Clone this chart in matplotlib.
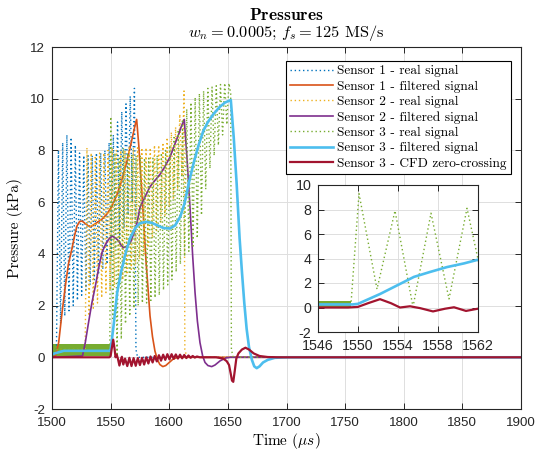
import numpy as np
import matplotlib
matplotlib.use('Agg')
import matplotlib.pyplot as plt
from matplotlib.font_manager import FontProperties

plt.rcParams['mathtext.fontset'] = 'cm'
plt.rcParams['axes.unicode_minus'] = False
plt.rcParams['font.family'] = ['Liberation Sans', 'DejaVu Sans']

# ---------------- data ----------------
# Sensor 1 - real signal (time in us, pressure in kPa)
s1r_t = [1500.0, 1503.8,
         1505.5, 1507.3, 1509.1, 1510.9, 1512.7, 1514.5, 1516.3, 1518.1, 1519.9, 1521.7,
         1523.5, 1525.3, 1527.1, 1528.9, 1530.7, 1532.5, 1534.3, 1536.1, 1537.9, 1539.7,
         1541.5, 1543.3, 1545.1, 1546.9, 1548.7, 1550.5, 1552.3, 1554.1, 1555.9, 1557.7,
         1559.5, 1561.3, 1563.1, 1564.9, 1566.7, 1568.5, 1570.3,
         1571.6, 1573.0, 1900.0]
s1r_v = [0.3, 0.3,
         8.0, 1.3, 8.3, 1.6, 8.6, 1.8, 8.5, 2.0, 8.2, 2.2,
         7.9, 2.4, 7.8, 2.6, 7.8, 2.8, 7.8, 3.0, 7.9, 3.2,
         7.9, 3.4, 8.0, 3.6, 8.3, 3.9, 8.6, 4.2, 9.1, 4.6,
         9.5, 5.0, 9.8, 5.5, 10.1, 6.0, 10.4,
         0.3, 0.0, 0.0]

# Sensor 1 - filtered signal
s1f_t = [1500, 1503, 1505.7, 1508.5, 1511.4, 1514, 1517, 1519.5, 1521.3, 1523.5, 1525.6,
         1529, 1532, 1534.1, 1538, 1542.6, 1547, 1551.2, 1555.5, 1559.7, 1564, 1568.2,
         1571, 1572.2, 1574, 1576.5, 1578.5, 1580.2, 1582, 1583.6, 1585.7, 1587.8, 1590,
         1592, 1594.5, 1597, 1600, 1603, 1607, 1900]
s1f_v = [0.0, 0.05, 0.57, 1.7, 2.76, 3.6, 4.2, 4.75, 5.08, 5.25, 5.27,
         5.15, 5.05, 5.08, 5.2, 5.34, 5.55, 5.85, 6.3, 6.88, 7.6, 8.43,
         9.0, 9.2, 8.2, 6.5, 5.0, 3.7, 2.6, 1.6, 0.8, 0.24, -0.1,
         -0.28, -0.36, -0.32, -0.2, -0.08, 0.0, 0.0]

# Sensor 2 - real signal
s2r_t = [1500.0, 1528.3,
         1529.8, 1531.6, 1533.4, 1535.2, 1537.0, 1538.8, 1540.6, 1542.4, 1544.2, 1546.0,
         1547.8, 1549.6, 1551.4, 1553.2, 1555.0, 1556.8, 1558.6, 1560.4, 1562.2, 1564.0,
         1565.8, 1567.6, 1569.4, 1571.2, 1573.0, 1574.8, 1576.6, 1578.4, 1580.2, 1582.0,
         1583.8, 1585.6, 1587.4, 1589.2, 1591.0, 1592.8, 1594.6, 1596.4, 1598.2, 1600.0,
         1601.8, 1603.6, 1605.4, 1607.2, 1609.0, 1610.8, 1612.6,
         1613.3, 1615.0, 1900.0]
s2r_v = [0.3, 0.3,
         8.1, 1.6, 7.9, 1.9, 7.8, 2.1, 7.9, 2.3, 7.9, 2.5,
         8.0, 2.6, 8.1, 2.7, 8.0, 2.8, 8.0, 3.0, 8.0, 3.2,
         8.1, 3.4, 8.1, 3.6, 8.1, 3.8, 8.1, 4.0, 8.1, 4.3,
         8.1, 4.6, 8.2, 4.9, 8.2, 5.2, 8.3, 5.5, 8.5, 5.8,
         8.7, 6.1, 8.9, 6.5, 9.4, 7.0, 10.3,
         0.3, 0.0, 0.0]

# Sensor 2 - filtered signal
s2f_t = [1500, 1526, 1528.4, 1531, 1534, 1537, 1540, 1542.6, 1545.5, 1548.3, 1551.2,
         1554, 1556.8, 1559, 1561.1, 1564, 1566.8, 1569.5, 1572.5, 1575.1, 1579.3,
         1583.6, 1588, 1592.2, 1596, 1600.7, 1604, 1607.8, 1610.5, 1612.8, 1615,
         1617.7, 1620, 1622, 1624, 1626.2, 1628.5, 1630.5, 1633, 1636.2, 1639,
         1643.3, 1648, 1652, 1900]
s2f_v = [0.0, 0.05, 0.57, 1.3, 2.1, 2.76, 3.5, 4.05, 4.35, 4.56, 4.69,
         4.62, 4.5, 4.33, 4.24, 4.3, 4.43, 4.75, 5.2, 5.8, 6.2,
         6.6, 6.85, 7.08, 7.35, 7.75, 8.15, 8.6, 8.95, 9.2, 7.8,
         5.8, 3.9, 2.5, 1.4, 0.57, 0.05, -0.2, -0.32, -0.36, -0.3,
         -0.14, -0.03, 0.0, 0.0]

# Sensor 3 - real signal
s3r_t = [1500.0, 1549.3,
         1550.1, 1551.9, 1553.7, 1555.5, 1557.3, 1559.1, 1560.9, 1562.7, 1564.5, 1566.3,
         1568.1, 1569.9, 1571.7, 1573.5, 1575.3, 1577.1, 1578.9, 1580.7, 1582.5, 1584.3,
         1586.1, 1587.9, 1589.7, 1591.5, 1593.3, 1595.1, 1596.9, 1598.7, 1600.5, 1602.3,
         1604.1, 1605.9, 1607.7, 1609.5, 1611.3, 1613.1, 1614.9, 1616.7, 1618.5, 1620.3,
         1622.1, 1623.9, 1625.7, 1627.5, 1629.3, 1631.1, 1632.9, 1634.7, 1636.5, 1638.3,
         1640.1, 1641.9, 1643.7, 1645.5, 1647.3, 1649.1, 1650.9,
         1652.4, 1653.0, 1654.5, 1900.0]
s3r_v = [0.3, 0.3,
         9.3, 1.5, 7.9, 0.05, 7.7, 0.7, 8.1, 1.3, 7.9, 1.6,
         7.8, 1.9, 7.8, 2.0, 7.8, 2.1, 7.7, 2.1, 7.7, 2.2,
         7.7, 2.3, 7.8, 2.4, 7.9, 2.6, 8.0, 2.8, 8.2, 3.0,
         8.5, 3.3, 8.8, 3.6, 9.2, 3.9, 9.6, 4.1, 9.85, 4.3,
         10.05, 4.6, 10.2, 5.5, 10.3, 6.5, 10.4, 7.3, 10.45, 7.8,
         10.5, 8.2, 10.55, 8.6, 10.6, 9.0, 10.6,
         10.2, 0.3, 0.0, 0.0]
# noise band of the sensor 3 real signal before the arrival
s3_noise_t = [1500.0, 1549.3]
s3_noise_lo = [0.06, 0.06]
s3_noise_hi = [0.52, 0.52]

# Sensor 3 - filtered signal
s3f_t = [1500, 1510, 1549.5, 1550, 1552.2, 1553.9, 1555.6, 1557.2, 1558.9, 1560.6, 1562,
         1566.5, 1571, 1575, 1580, 1585, 1590, 1595, 1600.6, 1605, 1609.5, 1613,
         1617, 1621, 1625, 1629, 1633, 1637.6, 1643, 1647.5, 1652.5, 1655, 1657.5,
         1660, 1662, 1664, 1666, 1668, 1670.5, 1672.5, 1674.6, 1677, 1680, 1684,
         1690, 1700, 1900]
s3f_v = [0.12, 0.25, 0.25, 0.3, 1.1, 1.8, 2.5, 2.9, 3.3, 3.6, 3.9,
         4.6, 5.0, 5.18, 5.24, 5.2, 5.1, 5.0, 4.98, 5.1, 5.45, 5.95,
         6.8, 7.55, 8.2, 8.75, 9.1, 9.4, 9.68, 9.85, 9.95, 8.5, 6.7,
         4.6, 3.3, 2.1, 1.1, 0.4, -0.1, -0.35, -0.42, -0.35, -0.2, -0.1,
         -0.02, 0.0, 0.0]

# Sensor 3 - CFD zero-crossing
cfd_t = [1500, 1549.0, 1550.0, 1551.0, 1552.2, 1553.3, 1554.2, 1555.2, 1556.2, 1557.5,
         1558.7, 1559.6, 1560.8, 1562.3, 1564.2, 1566.0, 1567.8, 1569.6, 1571.4, 1573.2,
         1575.0, 1576.8, 1578.6, 1580.4, 1582.2, 1584.0, 1585.8, 1587.6, 1589.4, 1591.2,
         1593.0, 1594.8, 1596.6, 1598.4, 1600.2, 1602.0, 1603.8, 1605.6, 1607.4, 1609.2,
         1611.0, 1612.8, 1614.6, 1616.4, 1618.2, 1620.0, 1621.8, 1623.6, 1626.0, 1640,
         1646, 1649, 1651, 1652.5, 1653.5, 1654.6, 1655.8, 1657.2, 1659, 1662,
         1665, 1668, 1672, 1677, 1684, 1692, 1900]
cfd_v = [0.0, 0.0, 0.05, 0.35, 0.68, 0.35, 0.0, 0.1, -0.05, -0.32,
         -0.1, 0.02, -0.28, -0.05, -0.34, -0.02, -0.34, -0.03, -0.33, -0.03,
         -0.3, -0.02, -0.28, 0.0, -0.24, 0.03, -0.2, 0.05, -0.16, 0.08,
         -0.13, 0.1, -0.1, 0.12, -0.08, 0.12, -0.06, 0.11, -0.05, 0.1,
         -0.04, 0.09, -0.03, 0.07, -0.02, 0.05, -0.01, 0.03, 0.0, 0.0,
         -0.05, -0.15, -0.3, -0.65, -0.9, -0.95, -0.55, -0.05, 0.15, 0.3,
         0.37, 0.3, 0.15, 0.05, 0.01, 0.0, 0.0]

labels = ['Sensor 1 - real signal', 'Sensor 1 - filtered signal',
          'Sensor 2 - real signal', 'Sensor 2 - filtered signal',
          'Sensor 3 - real signal', 'Sensor 3 - filtered signal',
          'Sensor 3 - CFD zero-crossing']

main_xticks = [1500, 1550, 1600, 1650, 1700, 1750, 1800, 1850, 1900]
main_yticks = [-2, 0, 2, 4, 6, 8, 10, 12]
inset_xticks = [1546, 1550, 1554, 1558, 1562]
inset_yticks = [-2, 0, 2, 4, 6, 8, 10]

# ---------------- styles ----------------
C = ['#0072BD', '#D95319', '#EDB120', '#7E2F8E', '#77AC30', '#4DBEEE', '#A2142F']
DOT = (0, (1, 2))
AXC = '#262626'
GRIDC = '#dedede'

fig = plt.figure(figsize=(5.39, 4.5), dpi=100)
W, H = 539.0, 450.0
ax = fig.add_axes([52 / W, 1 - 409 / H, (521 - 52) / W, (409 - 47) / H])


def draw(a, which):
    lines = []
    if 0 in which:
        lines.append(a.plot(s1r_t, s1r_v, ls=DOT, lw=1.0, color=C[0])[0])
    if 1 in which:
        lines.append(a.plot(s1f_t, s1f_v, ls='-', lw=1.2, color=C[1])[0])
    if 2 in which:
        lines.append(a.plot(s2r_t, s2r_v, ls=DOT, lw=1.0, color=C[2])[0])
    if 3 in which:
        lines.append(a.plot(s2f_t, s2f_v, ls='-', lw=1.2, color=C[3])[0])
    if 4 in which:
        a.fill_between(s3_noise_t, s3_noise_lo, s3_noise_hi, color=C[4], lw=0)
        lines.append(a.plot(s3r_t, s3r_v, ls=DOT, lw=1.0, color=C[4])[0])
    if 5 in which:
        lines.append(a.plot(s3f_t, s3f_v, ls='-', lw=1.9, color=C[5])[0])
    if 6 in which:
        lines.append(a.plot(cfd_t, cfd_v, ls='-', lw=1.6, color=C[6])[0])
    return lines


def style(a, xt, yt, fs, padx, pady):
    a.set_xticks(xt)
    a.set_yticks(yt)
    a.grid(True, color=GRIDC, lw=0.7)
    a.set_axisbelow(True)
    for s in a.spines.values():
        s.set_color(AXC)
        s.set_linewidth(0.8)
    a.tick_params(direction='in', top=True, right=True, length=4, width=0.7,
                  colors=AXC, labelsize=fs)
    a.tick_params(axis='x', pad=padx)
    a.tick_params(axis='y', pad=pady)


lines = draw(ax, range(7))
ax.set_xlim(1500, 1900)
ax.set_ylim(-2, 12)
style(ax, main_xticks, main_yticks, 9.6, 5.5, 5)

# legend
leg_font = FontProperties(family='cmr10', size=9.6)
leg = ax.legend(lines, labels, loc='upper left', bbox_to_anchor=(286 / W, 1 - 61 / H),
                bbox_transform=fig.transFigure, borderaxespad=0, prop=leg_font,
                fancybox=False, framealpha=1, edgecolor='black', handlelength=3.2,
                handletextpad=0.35, borderpad=0.3, labelspacing=0.22)
leg.get_frame().set_linewidth(0.8)

# inset
axi = fig.add_axes([318 / W, 1 - 332 / H, 160 / W, 147 / H])
draw(axi, [4, 5, 6])
axi.set_xlim(1546, 1562)
axi.set_ylim(-2, 10)
style(axi, inset_xticks, inset_yticks, 10.3, 5, 4.8)
axi.set_facecolor('white')

# titles and labels
cx = (52 + 521) / 2 / W
fig.text(cx, 1 - 15.5 / H, r'$\mathbf{Pressures}$', ha='center', va='center', fontsize=12.5)
fig.text(cx, 1 - 33 / H, r'$w_n = 0.0005$; $f_s = 125$ MS/s', ha='center', va='center',
         fontsize=11.8, family='cmr10')
fig.text(cx, 1 - 441 / H, r'Time ($\mu s$)', ha='center', va='center', fontsize=11,
         family='cmr10')
fig.text(15 / W, 1 - 228 / H, 'Pressure (kPa)', ha='center', va='center', fontsize=11,
         family='cmr10', rotation=90)

fig.savefig('out.png', dpi=100)
